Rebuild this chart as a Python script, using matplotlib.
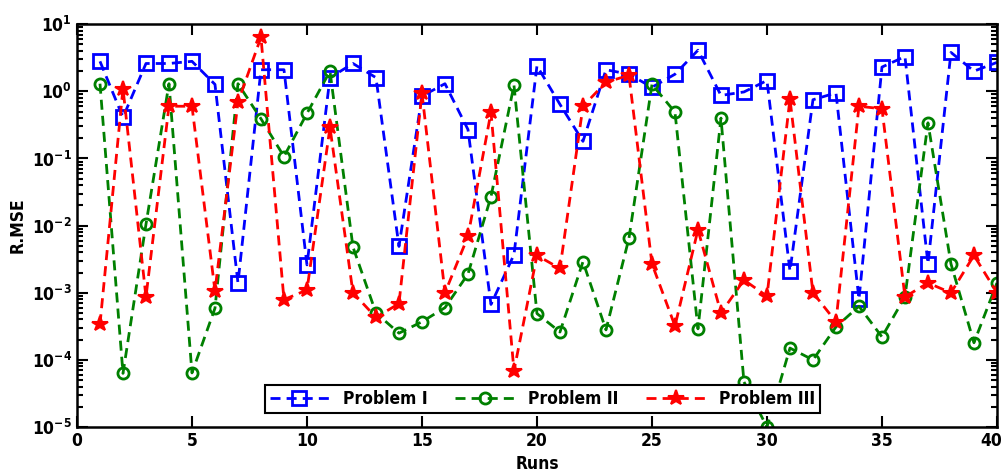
import numpy as np
import matplotlib
matplotlib.use("Agg")
import matplotlib.pyplot as plt
from matplotlib.ticker import LogLocator, FixedLocator, NullFormatter
from matplotlib.transforms import ScaledTranslation

plt.rcParams['font.family'] = ['DejaVu Sans']
plt.rcParams['font.stretch'] = 'condensed'
plt.rcParams['font.weight'] = 'bold'
plt.rcParams['mathtext.fontset'] = 'custom'
plt.rcParams['mathtext.bf'] = 'DejaVu Sans:bold'
plt.rcParams['mathtext.rm'] = 'DejaVu Sans:bold'
plt.rcParams['mathtext.default'] = 'bf'

runs = np.arange(1, 41)

problem_1 = [2.8, 0.41, 2.6, 2.6, 2.8, 1.27, 1.4e-3, 2.1, 2.1, 2.6e-3,
             1.6, 2.6, 1.6, 4.9e-3, 0.85, 1.3, 0.27, 6.7e-4, 3.7e-3, 2.4,
             0.64, 0.18, 2.1, 1.8, 1.15, 1.8, 4.1, 0.87, 0.98, 1.45,
             2.1e-3, 0.75, 0.95, 8.0e-4, 2.3, 3.3, 2.7e-3, 3.8, 2.0, 2.7]

problem_2 = [1.3, 6.3e-5, 1.05e-2, 1.3, 6.4e-5, 5.9e-4, 1.3, 0.39, 0.107, 0.47,
             2.0, 4.8e-3, 5.0e-4, 2.5e-4, 3.7e-4, 6.0e-4, 1.9e-3, 2.7e-2, 1.23, 4.9e-4,
             2.6e-4, 2.9e-3, 2.8e-4, 6.5e-3, 1.27, 0.49, 2.9e-4, 0.40, 4.7e-5, 1.0e-5,
             1.5e-4, 1.0e-4, 3.1e-4, 6.3e-4, 2.2e-4, 8.7e-4, 0.34, 2.7e-3, 1.8e-4, 1.4e-3]

problem_3 = [3.4e-4, 1.1, 8.7e-4, 0.6, 0.6, 1.07e-3, 0.69, 6.4, 7.9e-4, 1.1e-3,
             0.29, 1.0e-3, 4.3e-4, 6.9e-4, 0.94, 1.0e-3, 6.9e-3, 0.49, 6.9e-5, 3.6e-3,
             2.3e-3, 0.6, 1.37, 1.73, 2.7e-3, 3.2e-4, 8.7e-3, 5.0e-4, 1.55e-3, 8.9e-4,
             0.77, 1.0e-3, 3.7e-4, 0.6, 0.55, 8.7e-4, 1.4e-3, 1.0e-3, 3.6e-3, 1.0e-3]

labels = ['Problem I', 'Problem II', 'Problem III']
x_ticks = [0, 5, 10, 15, 20, 25, 30, 35, 40]
y_ticks = [1e-5, 1e-4, 1e-3, 1e-2, 1e-1, 1e0, 1e1]

fig = plt.figure(figsize=(10.05, 4.75), dpi=100)
ax = fig.add_axes([0.0766, 0.101, 0.9154, 0.848])

dash = (3.6, 2.2)
ax.plot(runs, problem_1, color=(0, 0, 1), lw=2, dashes=dash, marker='s',
        ms=9.5, mfc='none', mec=(0, 0, 1), mew=2, label=labels[0])
ax.plot(runs, problem_2, color=(0, 0.5, 0), lw=2, dashes=dash, marker='o',
        ms=8, mfc='none', mec=(0, 0.5, 0), mew=2, label=labels[1])
ax.plot(runs, problem_3, color=(1, 0, 0), lw=2, dashes=dash, marker='*',
        ms=11.5, mfc=(1, 0, 0), mec=(1, 0, 0), mew=1.5, label=labels[2])

ax.set_yscale('log')
ax.set_xlim(0, 40)
ax.set_ylim(1e-5, 1e1)
ax.xaxis.set_major_locator(FixedLocator(x_ticks))
ax.yaxis.set_major_locator(FixedLocator(y_ticks))
ax.yaxis.set_minor_locator(LogLocator(base=10, subs=np.arange(2, 10)))
ax.yaxis.set_minor_formatter(NullFormatter())
ax.set_yticklabels([r'$\mathbf{10^{%d}}$' % int(np.log10(v)) for v in y_ticks])

ax.tick_params(which='both', direction='in', top=True, right=True,
               labelsize=12.5, width=1.5)
ax.tick_params(which='major', length=8)
ax.tick_params(which='minor', length=4)
for s in ax.spines.values():
    s.set_linewidth(1.8)

# keep the last x tick label inside the canvas
last = ax.get_xticklabels()[-1]
last.set_transform(last.get_transform() +
                   ScaledTranslation(-4 / 72, 0, fig.dpi_scale_trans))

ax.set_xlabel('Runs', fontsize=12.5, fontweight='bold', labelpad=4)
ax.set_ylabel('R.MSE', fontsize=12.5, fontweight='bold', labelpad=4)

leg = ax.legend(loc='lower left', bbox_to_anchor=(0.204, 0.035, 0.604, 0.082),
                mode='expand', ncol=3, numpoints=1, handlelength=3.4,
                fancybox=False, framealpha=1, edgecolor='black',
                prop={'size': 12.5, 'weight': 'bold', 'stretch': 'condensed'},
                borderaxespad=0, borderpad=0.3, columnspacing=1.5)
leg.get_frame().set_linewidth(1.5)

fig.savefig('out.png', dpi=100)
